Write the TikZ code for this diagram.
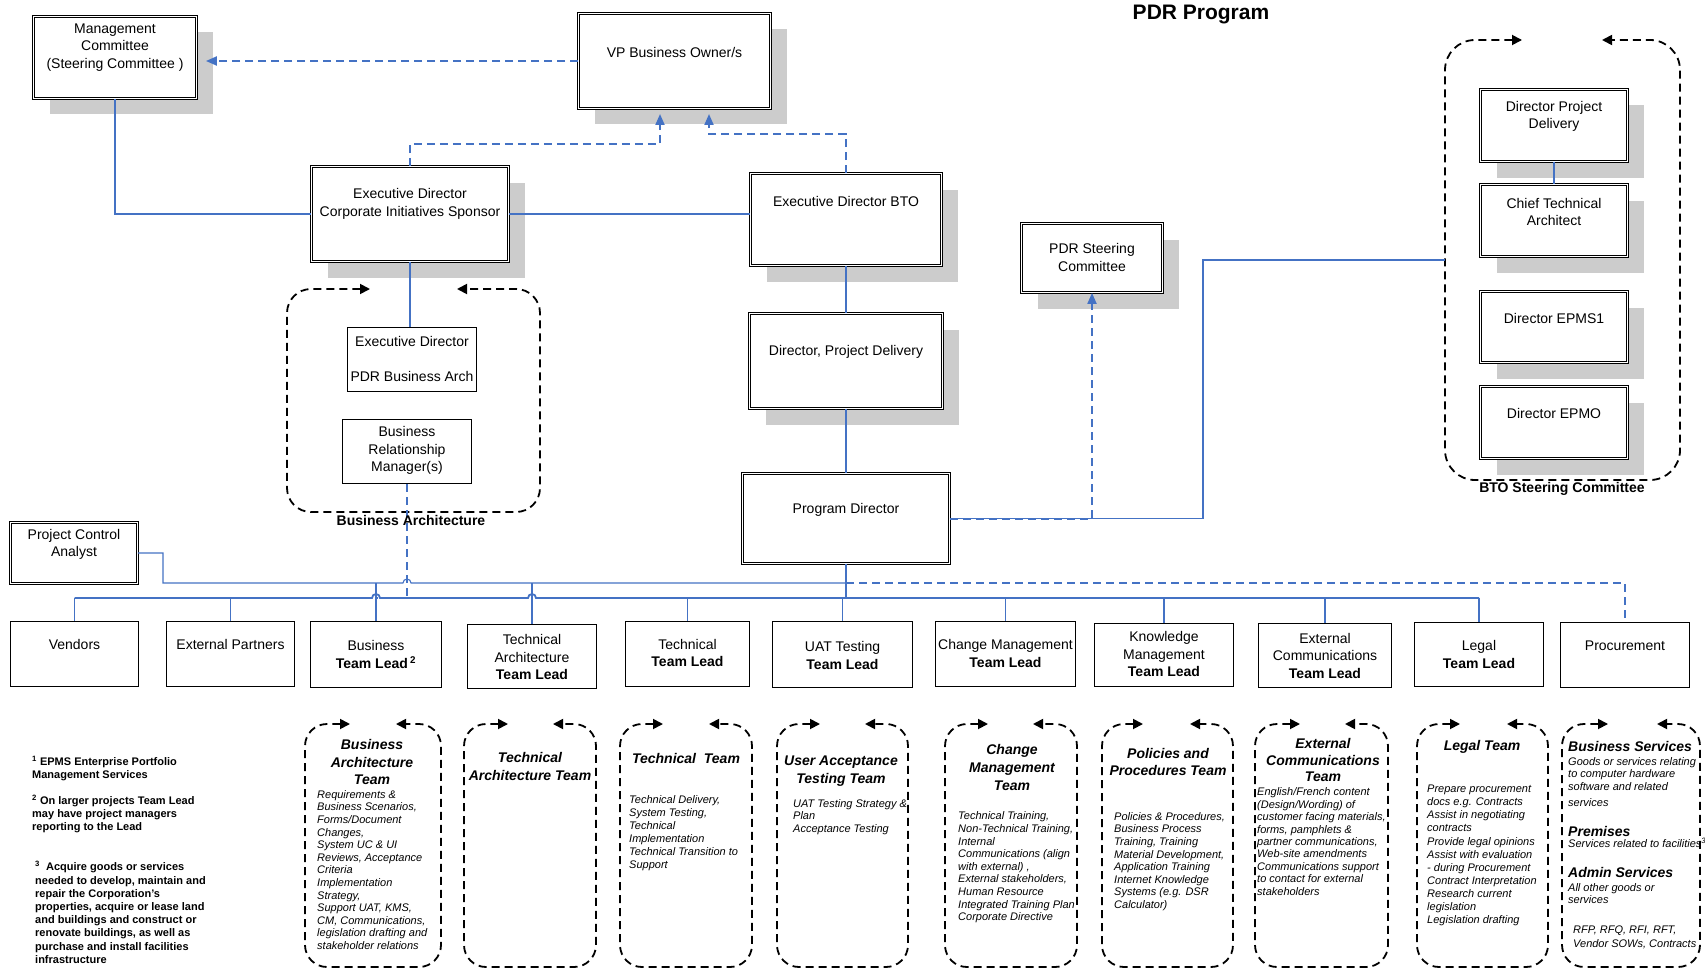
\documentclass[tikz,border=0pt]{standalone}
\usepackage{fontspec}
\setmainfont{Liberation Sans}
\usetikzlibrary{arrows.meta,shadows,calc}
\definecolor{lnk}{RGB}{68,114,196}
\definecolor{shadowgray}{RGB}{204,204,204}
\newcommand{\grpbox}[7]{\draw[grp, rounded corners=#7] (#5,#3) -- (#1,#3) -- (#1,#4) -- (#2,#4) -- (#2,#3) -- (#6,#3);}
\begin{document}
\begin{tikzpicture}[x=1pt,y=-1pt,
 lab/.style={font=\fontsize{14}{17.5}\selectfont, align=center, inner sep=0pt},
 blab/.style={font=\fontsize{14}{17.5}\selectfont\bfseries, align=center, inner sep=0pt},
 bodyt/.style={font=\fontsize{11}{12.6}\selectfont\itshape, align=left, inner sep=0pt, anchor=west},
 bodyw/.style={font=\fontsize{11}{13.1}\selectfont\itshape, align=left, inner sep=0pt, anchor=west},
 ttl/.style={font=\fontsize{14}{17.8}\selectfont\bfseries\itshape, align=center, inner sep=0pt},
 foot/.style={font=\fontsize{11}{13.2}\selectfont\bfseries, align=left, inner sep=0pt, anchor=west},
 dbox/.style={draw=black, line width=0.8pt, double=white, double distance=1.4pt, fill=white, inner sep=0pt},
 sbox/.style={draw=black, line width=1.1pt, fill=white, inner sep=0pt},
 boxshadow/.style={general shadow={fill=shadowgray, shadow xshift=16pt, shadow yshift=-16pt}},
 conn/.style={draw=lnk, line width=1.1pt},
 busline/.style={draw=lnk, line width=1.8pt},
 dconn/.style={draw=lnk, line width=2pt, dash pattern=on 8pt off 5pt},
 barrow/.style={-{Triangle[length=11pt,width=9pt]}},
 grp/.style={draw=black, line width=1.8pt, dash pattern=on 8pt off 5pt, {Triangle[length=10pt,width=10pt]}-{Triangle[length=10pt,width=10pt]}}
]
\fill[white] (0,0) rectangle (1705,971);
\useasboundingbox (0,0) rectangle (1705,971);

% ---------- dashed groups ----------
\grpbox{287}{540}{289}{512}{370}{457}{24pt}
\grpbox{1445}{1680}{40}{480}{1522}{1602}{30pt}
\grpbox{305}{441}{724}{967}{350}{396}{22pt}
\grpbox{464}{596}{724}{967}{508}{553}{22pt}
\grpbox{620}{752}{724}{967}{663}{709}{22pt}
\grpbox{777}{908}{724}{967}{820}{865}{22pt}
\grpbox{945}{1077}{724}{967}{988}{1033}{22pt}
\grpbox{1102}{1233}{724}{967}{1143}{1190}{22pt}
\grpbox{1255}{1388}{724}{967}{1300}{1345}{22pt}
\grpbox{1417}{1548}{724}{967}{1460}{1507}{22pt}
\grpbox{1562}{1700}{724}{967}{1608}{1657}{22pt}

% ---------- boxes ----------
\node[dbox, boxshadow, minimum width=163pt, minimum height=82pt] (mgmt) at (115,57.5) {};
\node[dbox, boxshadow, minimum width=192pt, minimum height=95pt] (vp) at (674.5,61) {};
\node[dbox, boxshadow, minimum width=197pt, minimum height=95pt] (execc) at (410,214) {};
\node[dbox, boxshadow, minimum width=191pt, minimum height=92pt] (ebto) at (846,219.5) {};
\node[dbox, boxshadow, minimum width=141pt, minimum height=69pt] (pdr) at (1092,258) {};
\node[dbox, boxshadow, minimum width=193pt, minimum height=95pt] (dpd) at (846,361) {};
\node[dbox, minimum width=207pt, minimum height=90pt] (pd) at (846,518.5) {};
\node[dbox, minimum width=127pt, minimum height=61pt] (pca) at (74,553) {};
\node[dbox, boxshadow, minimum width=147pt, minimum height=72pt] (bdpd) at (1554,125.5) {};
\node[dbox, boxshadow, minimum width=147pt, minimum height=72pt] (bcta) at (1554,220.5) {};
\node[dbox, boxshadow, minimum width=147pt, minimum height=71pt] (bepms) at (1554,327) {};
\node[dbox, boxshadow, minimum width=147pt, minimum height=72pt] (bepmo) at (1554,422.5) {};
\node[sbox, minimum width=129pt, minimum height=64pt] (edpba) at (412,359.5) {};
\node[sbox, minimum width=129pt, minimum height=64pt] (brm) at (407,451.5) {};

\node[sbox, minimum width=128pt, minimum height=65pt] (vend) at (74.5,654) {};
\node[sbox, minimum width=128pt, minimum height=65pt] (extp) at (230.5,654) {};
\node[sbox, minimum width=131pt, minimum height=66pt] (btl) at (376,654.5) {};
\node[sbox, minimum width=129pt, minimum height=64pt] (tatl) at (532,656.5) {};
\node[sbox, minimum width=124pt, minimum height=65pt] (techtl) at (687.5,654) {};
\node[sbox, minimum width=140pt, minimum height=66pt] (uat) at (842.5,654.5) {};
\node[sbox, minimum width=140pt, minimum height=65pt] (cm) at (1005.5,654) {};
\node[sbox, minimum width=139pt, minimum height=63pt] (km) at (1164,655) {};
\node[sbox, minimum width=133pt, minimum height=64pt] (ectl) at (1325,655.5) {};
\node[sbox, minimum width=129pt, minimum height=64pt] (legal) at (1479,654.5) {};
\node[sbox, minimum width=129pt, minimum height=65pt] (proc) at (1625,655) {};

% ---------- connectors ----------
\coordinate (up) at (0,583);
\coordinate (bus) at (0,598);
\coordinate (vpin1) at (660,114);
\coordinate (vpin2) at (709,114);
\coordinate (btoL) at (1445,260);
\coordinate (btoelbow) at (1203,260);

\draw[dconn, barrow] (vp.west) -- ($(mgmt.east |- vp.west)+(9,0)$);
\draw[conn] (mgmt.south) |- (execc.west);
\draw[conn] (execc.east) -- (execc.east -| ebto.west);
\draw[dconn, barrow] (execc.north) |- (660,144) -- (vpin1);
\draw[dconn, barrow] (ebto.north) |- (709,134) -- (vpin2);
\draw[conn] (ebto.south) -- (dpd.north);
\draw[conn] (dpd.south) -- (pd.north);
\draw[conn] (execc.south) -- (execc.south |- edpba.north);
\draw[conn] (bdpd.south) -- (bcta.north);

\draw[conn] (pd.east) -| (btoelbow) -- (btoL);
\draw[dconn, barrow] (pd.east) -| (pdr.south);

\draw[conn] (pca.east) -- (163,553) -- (163,583) -- (403,583)
  arc[start angle=180, end angle=0, radius=4pt] -- (pd.south |- up);
\draw[conn] (btl.north |- up) -- (btl.north);
\draw[conn] (tatl.north |- up) -- (tatl.north);
\draw[conn] (pd.south) -- (pd.south |- bus);
\draw[dconn] (pd.south |- up) -| (proc.north);
\draw[busline] (vend.north |- bus) -- (372,598)
  arc[start angle=180, end angle=0, radius=4pt] -- (528,598)
  arc[start angle=180, end angle=0, radius=4pt] -- (legal.north |- bus);
\foreach \n in {vend,extp,techtl,uat,cm,km,ectl,legal}
  \draw[conn] (\n.north |- bus) -- (\n.north);
\draw[dconn] (brm.south) -- (brm.south |- bus) -- (btl.north |- bus);

% ---------- labels ----------
\node[font=\fontsize{21}{25}\selectfont\bfseries, inner sep=0pt] (title) at (1201,15) {PDR Program};
\node[lab] (mgmt-t) at (115,47.5) {Management\\Committee\\(Steering Committee )};
\node[lab] (vp-t) at (674.5,52) {VP Business Owner/s};
\node[lab] (execc-t) at (410,204) {Executive Director\\Corporate Initiatives Sponsor};
\node[lab] (ebto-t) at (846,201) {Executive Director BTO};
\node[lab] (pdr-t) at (1092,257.5) {PDR Steering\\Committee};
\node[lab] (dpd-t) at (846,352) {Director, Project Delivery};
\node[lab] (pd-t) at (846,510) {Program Director};
\node[lab] (pca-t) at (74,544.5) {Project Control\\Analyst};
\node[lab] (bdpd-t) at (1554,116.5) {Director Project\\Delivery};
\node[lab] (bcta-t) at (1554,212) {Chief Technical\\Architect};
\node[lab] (bepms-t) at (1554,318) {Director EPMS1};
\node[lab] (bepmo-t) at (1554,413) {Director EPMO};
\node[lab] (edpba-t) at (412,358.5) {Executive Director\\[17.5pt]PDR Business Arch};
\node[lab] (brm-t) at (407,450.5) {Business\\Relationship\\Manager(s)};
\node[blab] (ba-t) at (411,520) {Business Architecture};
\node[blab] (bto-t) at (1562,489) {BTO Steering Committee};

\node[lab] (vend-t) at (74.5,644) {Vendors};
\node[lab] (extp-t) at (230.5,644) {External Partners};
\node[lab] (btl-t) at (376,654.5) {Business\\\textbf{Team Lead}\,\textsuperscript{\textbf{2}}};
\node[lab] (tatl-t) at (532,657) {Technical\\Architecture\\\textbf{Team Lead}};
\node[lab] (techtl-t) at (687.5,653) {Technical\\\textbf{Team Lead}};
\node[lab] (uat-t) at (842.5,655.5) {UAT Testing\\\textbf{Team Lead}};
\node[lab] (cm-t) at (1005.5,653.5) {Change Management\\\textbf{Team Lead}};
\node[lab] (km-t) at (1164,654) {Knowledge\\Management\\\textbf{Team Lead}};
\node[lab] (ectl-t) at (1325,655.5) {External\\Communications\\\textbf{Team Lead}};
\node[lab] (legal-t) at (1479,654.5) {Legal\\\textbf{Team Lead}};
\node[lab] (proc-t) at (1625,646) {Procurement};

% ---------- team texts ----------
\node[ttl] (bat-h) at (372,762) {Business\\Architecture\\Team};
\node[bodyt] (bat-b) at (317,870) {Requirements \&\\Business Scenarios,\\Forms/Document\\Changes,\\System UC \& UI\\Reviews, Acceptance\\Criteria\\Implementation\\Strategy,\\Support UAT, KMS,\\CM, Communications,\\legislation drafting and\\stakeholder relations};
\node[ttl] (tat-h) at (530,766.5) {Technical\\Architecture Team};
\node[ttl] (tt-h) at (686,758) {Technical \ Team};
\node[bodyw] (tt-b) at (629,833) {Technical Delivery,\\System Testing,\\Technical\\Implementation\\Technical Transition to\\Support};
\node[ttl] (uatt-h) at (841,771.5) {User Acceptance\\Testing Team};
\node[bodyt] (uatt-b) at (793,817) {UAT Testing Strategy \&\\Plan\\Acceptance Testing};
\node[ttl] (cmt-h) at (1012,767.5) {Change\\Management\\Team};
\node[bodyt] (cmt-b) at (958,867.5) {Technical Training,\\Non-Technical Training,\\Internal\\Communications (align\\with external) ,\\External stakeholders,\\Human Resource\\Integrated Training Plan\\Corporate Directive};
\node[ttl] (ppt-h) at (1168,762) {Policies and\\Procedures Team};
\node[bodyt] (ppt-b) at (1114,861.5) {Policies \& Procedures,\\Business Process\\Training, Training\\Material Development,\\Application Training\\Internet Knowledge\\Systems (e.g. DSR\\Calculator)};
\node[ttl, font=\fontsize{14}{16.8}\selectfont\bfseries\itshape] (ect-h) at (1323,760) {External\\Communications\\Team};
\node[bodyt, font=\fontsize{11}{12.4}\selectfont\itshape] (ect-b) at (1257,841.5) {English/French content\\(Design/Wording) of\\customer facing materials,\\forms, pamphlets \&\\partner communications,\\Web-site amendments\\Communications support\\to contact for external\\stakeholders};
\node[ttl] (lt-h) at (1482,747) {Legal Team};
\node[bodyw] (lt-b) at (1427,855.5) {Prepare procurement\\docs e.g. Contracts\\Assist in negotiating\\contracts\\Provide legal opinions\\Assist with evaluation\\- during Procurement\\Contract Interpretation\\Research current\\legislation\\Legislation drafting};
\node[ttl, anchor=west] (pt-h1) at (1568,746) {Business Services};
\node[bodyt] (pt-b1) at (1568,774) {Goods or services relating\\to computer hardware\\software and related};
\node[bodyt] (pt-b2) at (1568,803) {services};
\node[ttl, anchor=west] (pt-h2) at (1568,831) {Premises};
\node[bodyt] (pt-b3) at (1568,843) {Services related to facilities\textsuperscript{3}};
\node[ttl, anchor=west] (pt-h3) at (1568,872) {Admin Services};
\node[bodyt] (pt-b4) at (1568,893.5) {All other goods or\\services};
\node[bodyt, font=\fontsize{11}{14}\selectfont\itshape] (pt-b5) at (1573,937) {RFP, RFQ, RFI, RFT,\\Vendor SOWs, Contracts};

% ---------- footnotes ----------
\node[foot] (fn1) at (32,768.5) {\textsuperscript{1} EPMS Enterprise Portfolio\\Management Services};
\node[foot] (fn2) at (32,814) {\textsuperscript{2} On larger projects Team Lead\\may have project managers\\reporting to the Lead};
\node[foot] (fn3) at (35,912.5) {\textsuperscript{3}\ \ Acquire goods or services\\needed to develop, maintain and\\repair the Corporation's\\properties, acquire or lease land\\and buildings and construct or\\renovate buildings, as well as\\purchase and install facilities\\infrastructure};
\end{tikzpicture}
\end{document}
